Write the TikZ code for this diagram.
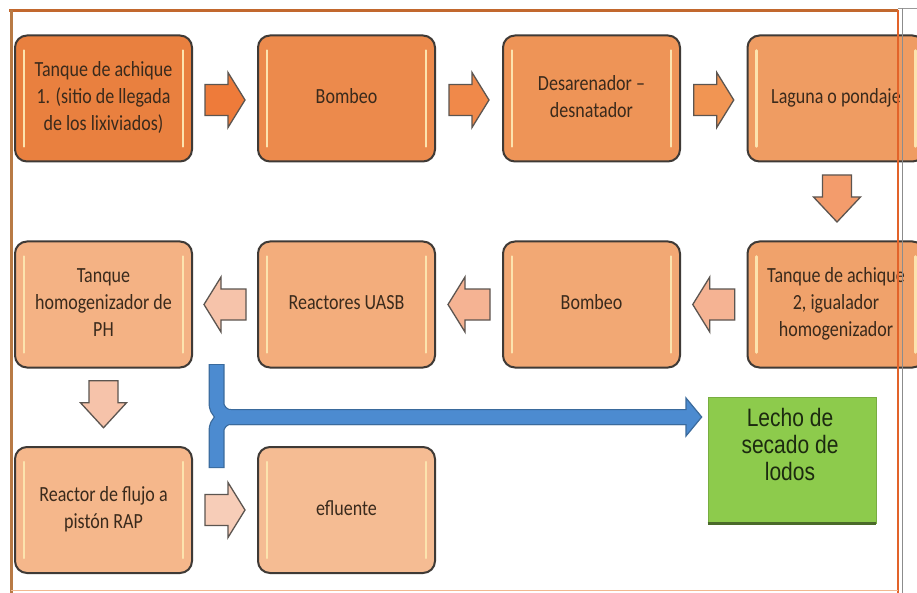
\documentclass[tikz,border=0pt]{standalone}
\usepackage{fontspec}
\setmainfont{Carlito}
\newfontfamily\arialf{Liberation Sans}
\usepackage{graphicx}
\usetikzlibrary{calc}
\definecolor{o1}{HTML}{E9803F}
\definecolor{o2}{HTML}{EC8A4C}
\definecolor{o3}{HTML}{EE9457}
\definecolor{o4}{HTML}{EF9C62}
\definecolor{o5}{HTML}{F0A26B}
\definecolor{o6}{HTML}{F2A874}
\definecolor{o7}{HTML}{F3AD7C}
\definecolor{o8}{HTML}{F4B284}
\definecolor{o9}{HTML}{F5B78B}
\definecolor{o10}{HTML}{F5BC93}
\definecolor{boxline}{HTML}{3F3A36}
\definecolor{txt}{HTML}{3A2A1C}
\definecolor{hl}{HTML}{FCE3AE}
\definecolor{arrline}{HTML}{5C5550}
\definecolor{a1}{HTML}{EE7B3A}
\definecolor{a2}{HTML}{F0894A}
\definecolor{a3}{HTML}{F19553}
\definecolor{a4}{HTML}{F39C6C}
\definecolor{a5}{HTML}{F5B393}
\definecolor{a6}{HTML}{F6C3AA}
\definecolor{a7}{HTML}{F7CDB8}
\definecolor{bluefill}{HTML}{4C8BD0}
\definecolor{blueline}{HTML}{3A6A9C}
\definecolor{gfill}{HTML}{8DCB4C}
\definecolor{gdark}{HTML}{4A6A2A}
\definecolor{gtxt}{HTML}{1C2A10}
\definecolor{frametop}{HTML}{C2682E}
\definecolor{frameleft}{HTML}{B87A45}
\definecolor{frameright}{HTML}{E2632A}
\definecolor{framebot}{HTML}{F2B890}
\newcommand\vtxt[1]{\scalebox{1}[1.2]{\begin{tabular}{@{}c@{}}#1\end{tabular}}}
\tikzset{
  hilite/.style={line width=2.5pt, draw=hl, line cap=round},
  stage/.style={draw=boxline, line width=2pt, rounded corners=12pt,
    minimum width=177pt, minimum height=126pt, inner sep=0pt, text=txt,
    font=\fontsize{18}{22.5}\selectfont,
    path picture={
      \draw[hilite] ([xshift=9pt,yshift=-15pt]path picture bounding box.north west) -- ([xshift=9pt,yshift=15pt]path picture bounding box.south west);
      \draw[hilite] ([xshift=-9pt,yshift=-15pt]path picture bounding box.north east) -- ([xshift=-9pt,yshift=15pt]path picture bounding box.south east);
    }},
  blockarr/.style={draw=arrline, line width=1.3pt, line join=miter},
  pics/blockarrow/.style n args={4}{code={
    \path[pic actions] (-#1/2,-#2) -- (#1/2-#4,-#2) -- (#1/2-#4,-#3) -- (#1/2,0)
      -- (#1/2-#4,#3) -- (#1/2-#4,#2) -- (-#1/2,#2) -- cycle;
  }},
  lechobox/.style={fill=gfill, draw=gfill!85!black, line width=0.6pt,
    minimum width=168pt, minimum height=126pt, inner sep=0pt},
  lechotext/.style={text=gtxt, font=\arialf\fontsize{21}{22.5}\selectfont},
  bandout/.style={line width=16pt, draw=blueline, rounded corners=14pt},
  bandin/.style={line width=13.5pt, draw=bluefill, rounded corners=14pt},
}
\begin{document}
\begin{tikzpicture}[x=1pt,y=-1pt]
\useasboundingbox (0,0) rectangle (917,593);
\clip (0,0) rectangle (917,593);
\fill[white] (0,0) rectangle (917,593);

% stages
\node[stage, fill=o1] (t1) at (103.5,98.5) {\vtxt{Tanque de achique\\1. (sitio de llegada\\de los lixiviados)}};
\node[stage, fill=o2] (b1) at (346.5,98.5) {\vtxt{Bombeo}};
\node[stage, fill=o3] (ds) at (591.5,98.5) {\vtxt{Desarenador –\\desnatador}};
\node[stage, fill=o4] (lg) at (836,98.5) {\vtxt{Laguna o pondaje}};
\node[stage, fill=o5] (t2) at (836,304.5) {\vtxt{Tanque de achique\\2, igualador\\homogenizador}};
\node[stage, fill=o6] (b2) at (591.5,304.5) {\vtxt{Bombeo}};
\node[stage, fill=o7] (ua) at (346.5,304.5) {\vtxt{Reactores UASB}};
\node[stage, fill=o8] (th) at (103.5,304.5) {\vtxt{Tanque\\homogenizador de\\PH}};
\node[stage, fill=o9] (rp) at (103.5,510) {\vtxt{Reactor de flujo a\\pistón RAP}};
\node[stage, fill=o10] (ef) at (346.5,510) {\vtxt{efluente}};

% block arrows
\pic[blockarr, fill=a1] at ($(t1.east)!0.5!(b1.west)+(0,1.5)$) {blockarrow={40}{15.5}{27.5}{17}};
\pic[blockarr, fill=a2] at ($(b1.east)!0.5!(ds.west)+(0,1.5)$) {blockarrow={40}{15.5}{27.5}{17}};
\pic[blockarr, fill=a3] at ($(ds.east)!0.5!(lg.west)+(0,1.5)$) {blockarrow={40}{15.5}{27.5}{17}};
\pic[blockarr, fill=a4, rotate=-90] at ($(lg.south)!0.5!(t2.north)+(1,-3)$) {blockarrow={47}{14.5}{23.5}{25}};
\pic[blockarr, fill=a5, rotate=180] at ($(t2.west)!0.5!(b2.east)$) {blockarrow={42}{15.5}{27.5}{17}};
\pic[blockarr, fill=a5, rotate=180] at ($(b2.west)!0.5!(ua.east)$) {blockarrow={42}{15.5}{27.5}{17}};
\pic[blockarr, fill=a6, rotate=180] at ($(ua.west)!0.5!(th.east)$) {blockarrow={42}{15.5}{27.5}{17}};
\pic[blockarr, fill=a6, rotate=-90] at ($(th.south)!0.5!(rp.north)+(0,-3)$) {blockarrow={47}{14.5}{23}{25}};
\pic[blockarr, fill=a7] at ($(rp.east)!0.5!(ef.west)$) {blockarrow={40}{15.5}{27.5}{17}};

% green box
\node[lechobox] (lc) at (792,460) {};
\draw[line width=2.5pt, draw=gdark] (lc.south west) -- (lc.south east);
\node[lechotext, align=center] (lct) at ($(lc.center)+(-2,-12)$) {\scalebox{1}[1.2]{\begin{tabular}{@{}c@{}}Lecho de\\secado de\\lodos\end{tabular}}};

% blue arrow
\coordinate (bt) at (216.5,364);
\coordinate (bb) at (216.5,468);
\coordinate (bj) at (216.5,417);
\coordinate (bh) at (686,417);
\coordinate (bf) at (689,417);
\coordinate (btip) at ($(lc.west)+(-6,-43)$);
\draw[bandout] (bt) -- (bj) -- (bh);
\draw[bandout] (bb) -- (bj) -- (bh);
\draw[fill=bluefill, draw=blueline, line width=1.2pt, line join=miter] ($(bh)+(0,-19)$) -- (btip) -- ($(bh)+(0,19)$) -- cycle;
\draw[bandin] ($(bt)+(0,1)$) -- (bj) -- (bf);
\draw[bandin] ($(bb)+(0,-1)$) -- (bj) -- (bf);

% frame
\draw[frametop, line width=3pt] (9,11) -- (898,11);
\draw[black!40, line width=0.8pt] (898,8.5) -- (917,8.5);
\draw[frameleft, line width=3pt] (11,10) -- (11,593);
\draw[frameright, line width=1.6pt] (898,10) -- (898,593);
\draw[black!45, line width=0.7pt] (902,8.5) -- (902,593);
\draw[framebot, line width=1.5pt] (11,590.5) -- (898,590.5);
\end{tikzpicture}
\end{document}
